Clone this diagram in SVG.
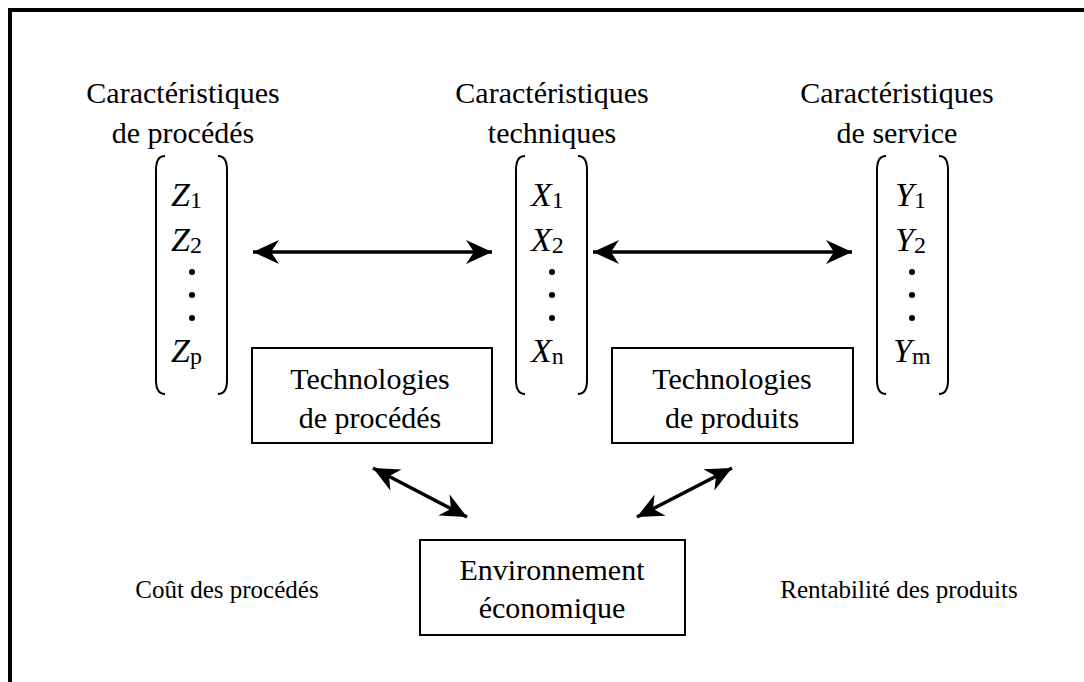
<svg xmlns="http://www.w3.org/2000/svg" width="1084" height="682" viewBox="0 0 1084 682" font-family="'Liberation Serif', 'Times New Roman', serif">
<style>
text{font-family:"Liberation Serif","Times New Roman",serif;fill:#000}
.t{font-size:30px;text-anchor:middle}
.m{font-size:34px;font-style:italic}
.s{font-size:24px;font-style:normal}
.lb{font-size:25px;text-anchor:middle}
.br{fill:none;stroke:#000;stroke-width:2}
.box{fill:#fff;stroke:#000;stroke-width:2}
.ar{stroke:#000;stroke-width:3.5;fill:none;marker-start:url(#ah);marker-end:url(#ah)}
</style>
<defs>
<marker id="ah" markerUnits="userSpaceOnUse" markerWidth="30" markerHeight="30" viewBox="-28 -14 30 28" refX="0" refY="0" orient="auto-start-reverse">
<path d="M0,0 L-26,-12 L-18,0 L-26,12 Z" fill="#000"/>
</marker>
</defs>
<rect width="1084" height="682" fill="#fff"/>
<g id="frame"><path d="M10,682 V10 H1084" fill="none" stroke="#000" stroke-width="4"/></g>

<g id="title-procedes"><text class="t" x="183" y="103">Caractéristiques</text><text class="t" x="183" y="143">de procédés</text></g>
<g id="title-techniques"><text class="t" x="552" y="103">Caractéristiques</text><text class="t" x="552" y="143">techniques</text></g>
<g id="title-service"><text class="t" x="897" y="103">Caractéristiques</text><text class="t" x="897" y="143">de service</text></g>

<g id="matrix-z">
<path class="br" d="M165,156 Q156,156 156,170 V380 Q156,394 165,394"/>
<path class="br" d="M218,156 Q227,156 227,170 V380 Q227,394 218,394"/>
<text class="m" x="171" y="206">Z<tspan class="s" dy="2">1</tspan></text>
<text class="m" x="171" y="251">Z<tspan class="s" dy="2">2</tspan></text>
<circle cx="192" cy="272" r="3"/><circle cx="192" cy="295" r="3"/><circle cx="192" cy="318" r="3"/>
<text class="m" x="171" y="362">Z<tspan class="s" dy="2">p</tspan></text>
</g>
<g id="matrix-x">
<path class="br" d="M525,156 Q516,156 516,170 V380 Q516,394 525,394"/>
<path class="br" d="M578,156 Q587,156 587,170 V380 Q587,394 578,394"/>
<text class="m" x="531" y="206">X<tspan class="s" dy="2">1</tspan></text>
<text class="m" x="531" y="251">X<tspan class="s" dy="2">2</tspan></text>
<circle cx="552" cy="272" r="3"/><circle cx="552" cy="295" r="3"/><circle cx="552" cy="318" r="3"/>
<text class="m" x="531" y="362">X<tspan class="s" dy="2">n</tspan></text>
</g>
<g id="matrix-y">
<path class="br" d="M886,156 Q877,156 877,170 V380 Q877,394 886,394"/>
<path class="br" d="M939,156 Q948,156 948,170 V380 Q948,394 939,394"/>
<text class="m" x="895" y="206">Y<tspan class="s" dy="2">1</tspan></text>
<text class="m" x="895" y="251">Y<tspan class="s" dy="2">2</tspan></text>
<circle cx="912" cy="272" r="3"/><circle cx="912" cy="295" r="3"/><circle cx="912" cy="318" r="3"/>
<text class="m" x="893" y="362">Y<tspan class="s" dy="2">m</tspan></text>
</g>

<g id="box-tech-procedes"><rect class="box" x="252" y="348" width="240" height="95"/><text class="t" x="370" y="389">Technologies</text><text class="t" x="370" y="428">de procédés</text></g>
<g id="box-tech-produits"><rect class="box" x="612" y="348" width="241" height="95"/><text class="t" x="732" y="389">Technologies</text><text class="t" x="732" y="428">de produits</text></g>
<g id="box-env"><rect class="box" x="420" y="540" width="265" height="95"/><text class="t" x="552" y="580">Environnement</text><text class="t" x="552" y="618">économique</text></g>

<g id="label-cout"><text class="lb" x="227" y="598">Coût des procédés</text></g>
<g id="label-rentabilite"><text class="lb" x="899" y="598">Rentabilité des produits</text></g>

<g id="connectors">
<line class="ar" x1="253" y1="252" x2="492" y2="252"/>
<line class="ar" x1="593" y1="252" x2="852" y2="252"/>
<line class="ar" x1="373" y1="468" x2="467" y2="517"/>
<line class="ar" x1="637" y1="517" x2="732" y2="468"/>
</g>
</svg>
